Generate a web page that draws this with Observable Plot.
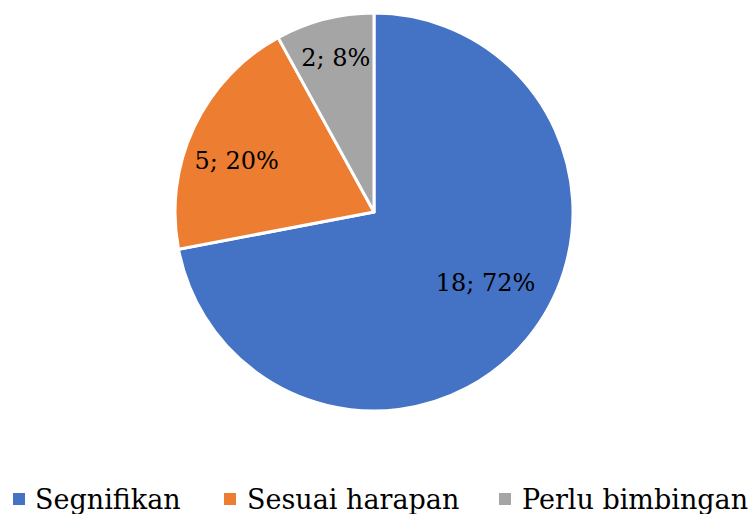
<!DOCTYPE html>
<html><head><meta charset="utf-8">
<script src="https://cdn.jsdelivr.net/npm/d3@7"></script>
<script src="https://cdn.jsdelivr.net/npm/@observablehq/plot@0.6"></script>
<style>
body{margin:0;background:#fff;font-family:"DejaVu Serif",serif;}
#legend{display:block;}
</style></head><body><div id="chart"></div>
<script>
// Data
const categories = ["Segnifikan", "Sesuai harapan", "Perlu bimbingan"];
const counts = [18, 5, 2];
const percents = [72, 20, 8];
const colors = ["#4472C4", "#ED7D31", "#A5A5A5"];

const FONT = "'DejaVu Serif', serif";
const rows = categories.map((c, i) => ({category: c, count: counts[i], pct: percents[i], label: `${counts[i]}; ${percents[i]}%`}));
const arcs = d3.pie().sort(null).value(d => d.count)(rows);
// label placement (fraction of radius, angle shift from slice middle in degrees)
const labelR = [0.662, 0.738, 0.80];
const labelShift = [-7, -5, 0.3];
const labelRows = arcs.map((a, i) => {
  const m = (a.startAngle + a.endAngle) / 2 + labelShift[i] * Math.PI / 180;
  return {...a.data, lx: Math.sin(m) * labelR[i], ly: Math.cos(m) * labelR[i]};
});

function pieMark(index, scales, values, dimensions, context) {
  const cx = scales.x(0), cy = scales.y(0), r = scales.x(1) - scales.x(0);
  const arc = d3.arc().innerRadius(0).outerRadius(r);
  const g = d3.create("svg:g").attr("transform", `translate(${cx},${cy})`);
  g.selectAll("path").data(arcs).join("path")
    .attr("d", arc)
    .attr("fill", d => scales.color(d.data.category))
    .attr("stroke", "white")
    .attr("stroke-width", 3)
    .attr("stroke-linejoin", "round");
  return g.node();
}

const chart = Plot.plot({
  width: 752,
  height: 470,
  margin: 0,
  x: {domain: [-1, 1], range: [175, 573], axis: null},
  y: {domain: [-1, 1], range: [411, 13], axis: null},
  color: {domain: categories, range: colors},
  style: {background: "white", fontFamily: FONT, overflow: "visible"},
  marks: [
    pieMark,
    Plot.text(labelRows, {x: "lx", y: "ly", text: "label", fontSize: 24, fill: "black", textAnchor: "middle", lineAnchor: "middle", fontFamily: FONT})
  ]
});
document.getElementById("chart").appendChild(chart);

// Legend below the chart
const sqX = [13, 224, 499];
const txX = [35, 247, 522];
const leg = d3.create("svg").attr("id", "legend").attr("width", 752).attr("height", 44);
categories.forEach((c, i) => {
  leg.append("rect").attr("x", sqX[i]).attr("y", 23).attr("width", 12).attr("height", 12).attr("fill", colors[i]);
  leg.append("text").attr("x", txX[i]).attr("y", 39).style("font-size", "27px").style("font-family", FONT).attr("fill", "black").text(c);
});
document.body.appendChild(leg.node());
</script>
</body></html>
